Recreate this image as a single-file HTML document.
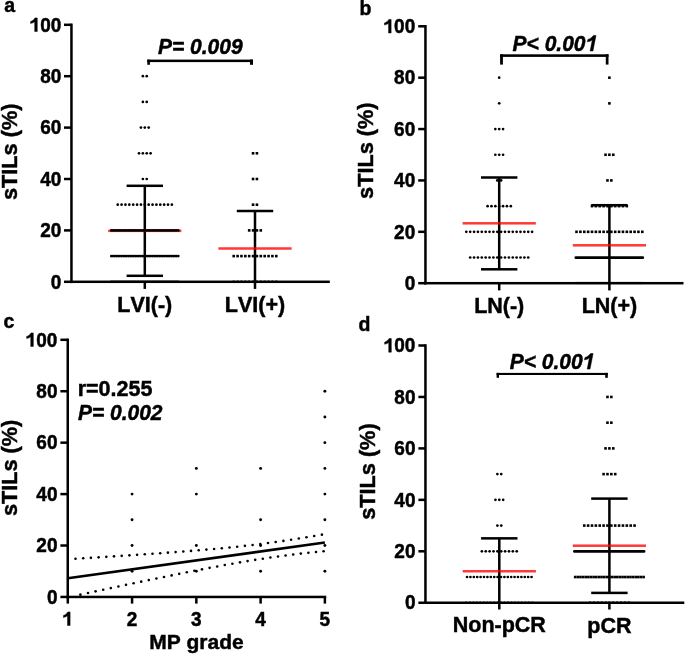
<!DOCTYPE html><html><head><meta charset="utf-8"><style>html,body{margin:0;padding:0;background:#fff;}svg{display:block;will-change:transform;} text{font-family:"Liberation Sans", sans-serif;font-weight:bold;fill:#000;stroke:#000;stroke-width:0.45px;font-kerning:none;} .g1{fill:#000;stroke:#000;stroke-width:0.45px;vector-effect:non-scaling-stroke;}</style></head><body>
<svg width="685" height="655" viewBox="0 0 685 655">
<rect width="685" height="655" fill="#fff"/>
<g transform="translate(4.30,12.40) scale(1,1.0)"><text x="0" y="0" font-size="19.5" font-style="normal" >a</text>
</g>
<rect x="143.55" y="185.80" width="2.50" height="90.00" fill="#000"/>
<rect x="126.60" y="184.55" width="36.40" height="2.50" fill="#000"/>
<rect x="126.60" y="274.55" width="36.40" height="2.50" fill="#000"/>
<rect x="253.75" y="211.00" width="2.50" height="70.80" fill="#000"/>
<rect x="236.80" y="209.75" width="36.40" height="2.50" fill="#000"/>
<rect x="108.20" y="229.60" width="73.20" height="2.50" fill="rgba(255,0,0,0.78)"/>
<rect x="218.40" y="247.25" width="73.20" height="2.50" fill="rgba(255,0,0,0.78)"/>
<circle cx="142.87" cy="76.20" r="1.35"/>
<circle cx="146.74" cy="76.20" r="1.35"/>
<circle cx="142.87" cy="101.90" r="1.35"/>
<circle cx="146.74" cy="101.90" r="1.35"/>
<circle cx="140.93" cy="127.60" r="1.35"/>
<circle cx="144.80" cy="127.60" r="1.35"/>
<circle cx="148.67" cy="127.60" r="1.35"/>
<circle cx="139.00" cy="153.30" r="1.35"/>
<circle cx="142.87" cy="153.30" r="1.35"/>
<circle cx="146.74" cy="153.30" r="1.35"/>
<circle cx="150.61" cy="153.30" r="1.35"/>
<circle cx="142.87" cy="179.00" r="1.35"/>
<circle cx="146.74" cy="179.00" r="1.35"/>
<circle cx="117.71" cy="204.70" r="1.35"/>
<circle cx="121.58" cy="204.70" r="1.35"/>
<circle cx="125.45" cy="204.70" r="1.35"/>
<circle cx="129.32" cy="204.70" r="1.35"/>
<circle cx="133.19" cy="204.70" r="1.35"/>
<circle cx="137.06" cy="204.70" r="1.35"/>
<circle cx="140.93" cy="204.70" r="1.35"/>
<circle cx="144.80" cy="204.70" r="1.35"/>
<circle cx="148.67" cy="204.70" r="1.35"/>
<circle cx="152.54" cy="204.70" r="1.35"/>
<circle cx="156.41" cy="204.70" r="1.35"/>
<circle cx="160.28" cy="204.70" r="1.35"/>
<circle cx="164.15" cy="204.70" r="1.35"/>
<circle cx="168.02" cy="204.70" r="1.35"/>
<circle cx="171.89" cy="204.70" r="1.35"/>
<circle cx="111.30" cy="230.40" r="1.35"/>
<circle cx="113.02" cy="230.40" r="1.35"/>
<circle cx="114.74" cy="230.40" r="1.35"/>
<circle cx="116.45" cy="230.40" r="1.35"/>
<circle cx="118.17" cy="230.40" r="1.35"/>
<circle cx="119.89" cy="230.40" r="1.35"/>
<circle cx="121.61" cy="230.40" r="1.35"/>
<circle cx="123.33" cy="230.40" r="1.35"/>
<circle cx="125.04" cy="230.40" r="1.35"/>
<circle cx="126.76" cy="230.40" r="1.35"/>
<circle cx="128.48" cy="230.40" r="1.35"/>
<circle cx="130.20" cy="230.40" r="1.35"/>
<circle cx="131.92" cy="230.40" r="1.35"/>
<circle cx="133.63" cy="230.40" r="1.35"/>
<circle cx="135.35" cy="230.40" r="1.35"/>
<circle cx="137.07" cy="230.40" r="1.35"/>
<circle cx="138.79" cy="230.40" r="1.35"/>
<circle cx="140.51" cy="230.40" r="1.35"/>
<circle cx="142.22" cy="230.40" r="1.35"/>
<circle cx="143.94" cy="230.40" r="1.35"/>
<circle cx="145.66" cy="230.40" r="1.35"/>
<circle cx="147.38" cy="230.40" r="1.35"/>
<circle cx="149.09" cy="230.40" r="1.35"/>
<circle cx="150.81" cy="230.40" r="1.35"/>
<circle cx="152.53" cy="230.40" r="1.35"/>
<circle cx="154.25" cy="230.40" r="1.35"/>
<circle cx="155.97" cy="230.40" r="1.35"/>
<circle cx="157.68" cy="230.40" r="1.35"/>
<circle cx="159.40" cy="230.40" r="1.35"/>
<circle cx="161.12" cy="230.40" r="1.35"/>
<circle cx="162.84" cy="230.40" r="1.35"/>
<circle cx="164.56" cy="230.40" r="1.35"/>
<circle cx="166.27" cy="230.40" r="1.35"/>
<circle cx="167.99" cy="230.40" r="1.35"/>
<circle cx="169.71" cy="230.40" r="1.35"/>
<circle cx="171.43" cy="230.40" r="1.35"/>
<circle cx="173.15" cy="230.40" r="1.35"/>
<circle cx="174.86" cy="230.40" r="1.35"/>
<circle cx="176.58" cy="230.40" r="1.35"/>
<circle cx="178.30" cy="230.40" r="1.35"/>
<circle cx="111.30" cy="256.10" r="1.35"/>
<circle cx="113.02" cy="256.10" r="1.35"/>
<circle cx="114.74" cy="256.10" r="1.35"/>
<circle cx="116.45" cy="256.10" r="1.35"/>
<circle cx="118.17" cy="256.10" r="1.35"/>
<circle cx="119.89" cy="256.10" r="1.35"/>
<circle cx="121.61" cy="256.10" r="1.35"/>
<circle cx="123.33" cy="256.10" r="1.35"/>
<circle cx="125.04" cy="256.10" r="1.35"/>
<circle cx="126.76" cy="256.10" r="1.35"/>
<circle cx="128.48" cy="256.10" r="1.35"/>
<circle cx="130.20" cy="256.10" r="1.35"/>
<circle cx="131.92" cy="256.10" r="1.35"/>
<circle cx="133.63" cy="256.10" r="1.35"/>
<circle cx="135.35" cy="256.10" r="1.35"/>
<circle cx="137.07" cy="256.10" r="1.35"/>
<circle cx="138.79" cy="256.10" r="1.35"/>
<circle cx="140.51" cy="256.10" r="1.35"/>
<circle cx="142.22" cy="256.10" r="1.35"/>
<circle cx="143.94" cy="256.10" r="1.35"/>
<circle cx="145.66" cy="256.10" r="1.35"/>
<circle cx="147.38" cy="256.10" r="1.35"/>
<circle cx="149.09" cy="256.10" r="1.35"/>
<circle cx="150.81" cy="256.10" r="1.35"/>
<circle cx="152.53" cy="256.10" r="1.35"/>
<circle cx="154.25" cy="256.10" r="1.35"/>
<circle cx="155.97" cy="256.10" r="1.35"/>
<circle cx="157.68" cy="256.10" r="1.35"/>
<circle cx="159.40" cy="256.10" r="1.35"/>
<circle cx="161.12" cy="256.10" r="1.35"/>
<circle cx="162.84" cy="256.10" r="1.35"/>
<circle cx="164.56" cy="256.10" r="1.35"/>
<circle cx="166.27" cy="256.10" r="1.35"/>
<circle cx="167.99" cy="256.10" r="1.35"/>
<circle cx="169.71" cy="256.10" r="1.35"/>
<circle cx="171.43" cy="256.10" r="1.35"/>
<circle cx="173.15" cy="256.10" r="1.35"/>
<circle cx="174.86" cy="256.10" r="1.35"/>
<circle cx="176.58" cy="256.10" r="1.35"/>
<circle cx="178.30" cy="256.10" r="1.35"/>
<circle cx="111.30" cy="281.60" r="1.1"/>
<circle cx="113.02" cy="281.60" r="1.1"/>
<circle cx="114.74" cy="281.60" r="1.1"/>
<circle cx="116.45" cy="281.60" r="1.1"/>
<circle cx="118.17" cy="281.60" r="1.1"/>
<circle cx="119.89" cy="281.60" r="1.1"/>
<circle cx="121.61" cy="281.60" r="1.1"/>
<circle cx="123.33" cy="281.60" r="1.1"/>
<circle cx="125.04" cy="281.60" r="1.1"/>
<circle cx="126.76" cy="281.60" r="1.1"/>
<circle cx="128.48" cy="281.60" r="1.1"/>
<circle cx="130.20" cy="281.60" r="1.1"/>
<circle cx="131.92" cy="281.60" r="1.1"/>
<circle cx="133.63" cy="281.60" r="1.1"/>
<circle cx="135.35" cy="281.60" r="1.1"/>
<circle cx="137.07" cy="281.60" r="1.1"/>
<circle cx="138.79" cy="281.60" r="1.1"/>
<circle cx="140.51" cy="281.60" r="1.1"/>
<circle cx="142.22" cy="281.60" r="1.1"/>
<circle cx="143.94" cy="281.60" r="1.1"/>
<circle cx="145.66" cy="281.60" r="1.1"/>
<circle cx="147.38" cy="281.60" r="1.1"/>
<circle cx="149.09" cy="281.60" r="1.1"/>
<circle cx="150.81" cy="281.60" r="1.1"/>
<circle cx="152.53" cy="281.60" r="1.1"/>
<circle cx="154.25" cy="281.60" r="1.1"/>
<circle cx="155.97" cy="281.60" r="1.1"/>
<circle cx="157.68" cy="281.60" r="1.1"/>
<circle cx="159.40" cy="281.60" r="1.1"/>
<circle cx="161.12" cy="281.60" r="1.1"/>
<circle cx="162.84" cy="281.60" r="1.1"/>
<circle cx="164.56" cy="281.60" r="1.1"/>
<circle cx="166.27" cy="281.60" r="1.1"/>
<circle cx="167.99" cy="281.60" r="1.1"/>
<circle cx="169.71" cy="281.60" r="1.1"/>
<circle cx="171.43" cy="281.60" r="1.1"/>
<circle cx="173.15" cy="281.60" r="1.1"/>
<circle cx="174.86" cy="281.60" r="1.1"/>
<circle cx="176.58" cy="281.60" r="1.1"/>
<circle cx="178.30" cy="281.60" r="1.1"/>
<rect x="251.76" y="152.00" width="2.60" height="2.60"/>
<rect x="255.63" y="152.00" width="2.60" height="2.60"/>
<rect x="251.76" y="177.70" width="2.60" height="2.60"/>
<rect x="255.63" y="177.70" width="2.60" height="2.60"/>
<rect x="251.76" y="203.40" width="2.60" height="2.60"/>
<rect x="255.63" y="203.40" width="2.60" height="2.60"/>
<rect x="247.89" y="229.10" width="2.60" height="2.60"/>
<rect x="251.76" y="229.10" width="2.60" height="2.60"/>
<rect x="255.63" y="229.10" width="2.60" height="2.60"/>
<rect x="259.50" y="229.10" width="2.60" height="2.60"/>
<rect x="232.41" y="254.80" width="2.60" height="2.60"/>
<rect x="236.28" y="254.80" width="2.60" height="2.60"/>
<rect x="240.16" y="254.80" width="2.60" height="2.60"/>
<rect x="244.02" y="254.80" width="2.60" height="2.60"/>
<rect x="247.89" y="254.80" width="2.60" height="2.60"/>
<rect x="251.76" y="254.80" width="2.60" height="2.60"/>
<rect x="255.63" y="254.80" width="2.60" height="2.60"/>
<rect x="259.50" y="254.80" width="2.60" height="2.60"/>
<rect x="263.38" y="254.80" width="2.60" height="2.60"/>
<rect x="267.25" y="254.80" width="2.60" height="2.60"/>
<rect x="271.12" y="254.80" width="2.60" height="2.60"/>
<rect x="274.99" y="254.80" width="2.60" height="2.60"/>
<rect x="232.66" y="280.55" width="2.10" height="2.10"/>
<rect x="236.53" y="280.55" width="2.10" height="2.10"/>
<rect x="240.41" y="280.55" width="2.10" height="2.10"/>
<rect x="244.27" y="280.55" width="2.10" height="2.10"/>
<rect x="248.14" y="280.55" width="2.10" height="2.10"/>
<rect x="252.01" y="280.55" width="2.10" height="2.10"/>
<rect x="255.88" y="280.55" width="2.10" height="2.10"/>
<rect x="259.75" y="280.55" width="2.10" height="2.10"/>
<rect x="263.62" y="280.55" width="2.10" height="2.10"/>
<rect x="267.50" y="280.55" width="2.10" height="2.10"/>
<rect x="271.37" y="280.55" width="2.10" height="2.10"/>
<rect x="275.24" y="280.55" width="2.10" height="2.10"/>
<rect x="70.20" y="23.55" width="2.50" height="259.50" fill="#000"/>
<rect x="70.20" y="280.55" width="259.60" height="2.50" fill="#000"/>
<rect x="64.00" y="280.55" width="7.45" height="2.50" fill="#000"/>
<g transform="translate(50.83,288.50) scale(1,1.04)"><text x="0" y="0" font-size="19" font-style="normal" >0</text>
</g>
<rect x="64.00" y="229.15" width="7.45" height="2.50" fill="#000"/>
<g transform="translate(40.27,237.10) scale(1,1.04)"><text x="0" y="0" font-size="19" font-style="normal" >20</text>
</g>
<rect x="64.00" y="177.75" width="7.45" height="2.50" fill="#000"/>
<g transform="translate(40.27,185.70) scale(1,1.04)"><text x="0" y="0" font-size="19" font-style="normal" >40</text>
</g>
<rect x="64.00" y="126.35" width="7.45" height="2.50" fill="#000"/>
<g transform="translate(40.27,134.30) scale(1,1.04)"><text x="0" y="0" font-size="19" font-style="normal" >60</text>
</g>
<rect x="64.00" y="74.95" width="7.45" height="2.50" fill="#000"/>
<g transform="translate(40.27,82.90) scale(1,1.04)"><text x="0" y="0" font-size="19" font-style="normal" >80</text>
</g>
<rect x="64.00" y="23.55" width="7.45" height="2.50" fill="#000"/>
<g transform="translate(29.70,31.50) scale(1,1.04)"><text x="0" y="0" font-size="19" font-style="normal" > 00</text>
<path class="g1" d="M 537.0 0.0 L 537.0 999.4 C 440.0 917.8 300.0 864.9 95.0 826.5 L 95.0 1042.7 C 300.0 1105.1 470.0 1239.7 562.0 1408.8 L 818.0 1408.8 L 818.0 0.0 Z" transform="translate(0.00,0) scale(0.00928,-0.00928)"/>
</g>
<text x="0" y="0" font-size="21.7" text-anchor="middle" transform="translate(16.80,151.80) rotate(-90) scale(1,1.03)">sTILs (%)</text>
<rect x="143.55" y="281.80" width="2.50" height="7.10" fill="#000"/>
<g transform="translate(117.34,311.70) scale(1,1.0)"><text x="0" y="0" font-size="21.5" font-style="normal" >LVI(-)</text>
</g>
<rect x="253.75" y="281.80" width="2.50" height="7.10" fill="#000"/>
<g transform="translate(224.84,311.70) scale(1,1.0)"><text x="0" y="0" font-size="21.5" font-style="normal" >LVI(+)</text>
</g>
<rect x="147.30" y="59.60" width="105.70" height="2.50" fill="#000"/>
<rect x="147.30" y="59.60" width="2.60" height="5.20" fill="#000"/>
<rect x="250.00" y="59.60" width="3.00" height="5.20" fill="#000"/>
<g transform="translate(157.97,53.60) scale(1,1.08)"><text x="0" y="0" font-size="21" font-style="italic" >P= 0.009</text>
</g>
<g transform="translate(359.40,15.20) scale(1,1.0)"><text x="0" y="0" font-size="19.5" font-style="normal" >b</text>
</g>
<rect x="497.95" y="177.50" width="2.50" height="91.80" fill="#000"/>
<rect x="481.00" y="176.25" width="36.40" height="2.50" fill="#000"/>
<rect x="481.00" y="268.05" width="36.40" height="2.50" fill="#000"/>
<rect x="608.15" y="205.20" width="2.50" height="78.00" fill="#000"/>
<rect x="591.20" y="203.95" width="36.40" height="2.50" fill="#000"/>
<rect x="462.60" y="222.05" width="73.20" height="2.50" fill="rgba(255,0,0,0.78)"/>
<rect x="572.80" y="244.05" width="73.20" height="2.50" fill="rgba(255,0,0,0.78)"/>
<circle cx="499.20" cy="77.68" r="1.35"/>
<circle cx="499.20" cy="103.37" r="1.35"/>
<circle cx="495.33" cy="129.06" r="1.35"/>
<circle cx="499.20" cy="129.06" r="1.35"/>
<circle cx="503.07" cy="129.06" r="1.35"/>
<circle cx="495.33" cy="154.75" r="1.35"/>
<circle cx="499.20" cy="154.75" r="1.35"/>
<circle cx="503.07" cy="154.75" r="1.35"/>
<circle cx="497.26" cy="180.44" r="1.35"/>
<circle cx="501.13" cy="180.44" r="1.35"/>
<circle cx="487.59" cy="206.13" r="1.35"/>
<circle cx="491.46" cy="206.13" r="1.35"/>
<circle cx="495.33" cy="206.13" r="1.35"/>
<circle cx="499.20" cy="206.13" r="1.35"/>
<circle cx="503.07" cy="206.13" r="1.35"/>
<circle cx="506.94" cy="206.13" r="1.35"/>
<circle cx="510.81" cy="206.13" r="1.35"/>
<circle cx="466.31" cy="231.82" r="1.35"/>
<circle cx="470.18" cy="231.82" r="1.35"/>
<circle cx="474.05" cy="231.82" r="1.35"/>
<circle cx="477.92" cy="231.82" r="1.35"/>
<circle cx="481.79" cy="231.82" r="1.35"/>
<circle cx="485.66" cy="231.82" r="1.35"/>
<circle cx="489.52" cy="231.82" r="1.35"/>
<circle cx="493.39" cy="231.82" r="1.35"/>
<circle cx="497.26" cy="231.82" r="1.35"/>
<circle cx="501.13" cy="231.82" r="1.35"/>
<circle cx="505.00" cy="231.82" r="1.35"/>
<circle cx="508.88" cy="231.82" r="1.35"/>
<circle cx="512.75" cy="231.82" r="1.35"/>
<circle cx="516.62" cy="231.82" r="1.35"/>
<circle cx="520.49" cy="231.82" r="1.35"/>
<circle cx="524.36" cy="231.82" r="1.35"/>
<circle cx="528.23" cy="231.82" r="1.35"/>
<circle cx="532.10" cy="231.82" r="1.35"/>
<circle cx="470.18" cy="257.51" r="1.35"/>
<circle cx="474.05" cy="257.51" r="1.35"/>
<circle cx="477.92" cy="257.51" r="1.35"/>
<circle cx="481.79" cy="257.51" r="1.35"/>
<circle cx="485.66" cy="257.51" r="1.35"/>
<circle cx="489.53" cy="257.51" r="1.35"/>
<circle cx="493.39" cy="257.51" r="1.35"/>
<circle cx="497.26" cy="257.51" r="1.35"/>
<circle cx="501.13" cy="257.51" r="1.35"/>
<circle cx="505.00" cy="257.51" r="1.35"/>
<circle cx="508.88" cy="257.51" r="1.35"/>
<circle cx="512.75" cy="257.51" r="1.35"/>
<circle cx="516.62" cy="257.51" r="1.35"/>
<circle cx="520.49" cy="257.51" r="1.35"/>
<circle cx="524.36" cy="257.51" r="1.35"/>
<circle cx="528.23" cy="257.51" r="1.35"/>
<circle cx="493.39" cy="283.00" r="1.1"/>
<circle cx="497.26" cy="283.00" r="1.1"/>
<circle cx="501.13" cy="283.00" r="1.1"/>
<circle cx="505.00" cy="283.00" r="1.1"/>
<rect x="608.10" y="76.38" width="2.60" height="2.60"/>
<rect x="608.10" y="102.07" width="2.60" height="2.60"/>
<rect x="604.23" y="153.45" width="2.60" height="2.60"/>
<rect x="608.10" y="153.45" width="2.60" height="2.60"/>
<rect x="611.97" y="153.45" width="2.60" height="2.60"/>
<rect x="606.17" y="179.14" width="2.60" height="2.60"/>
<rect x="610.04" y="179.14" width="2.60" height="2.60"/>
<rect x="590.69" y="204.83" width="2.60" height="2.60"/>
<rect x="594.56" y="204.83" width="2.60" height="2.60"/>
<rect x="598.43" y="204.83" width="2.60" height="2.60"/>
<rect x="602.30" y="204.83" width="2.60" height="2.60"/>
<rect x="606.17" y="204.83" width="2.60" height="2.60"/>
<rect x="610.04" y="204.83" width="2.60" height="2.60"/>
<rect x="613.91" y="204.83" width="2.60" height="2.60"/>
<rect x="617.78" y="204.83" width="2.60" height="2.60"/>
<rect x="621.65" y="204.83" width="2.60" height="2.60"/>
<rect x="625.52" y="204.83" width="2.60" height="2.60"/>
<rect x="575.21" y="230.52" width="2.60" height="2.60"/>
<rect x="579.08" y="230.52" width="2.60" height="2.60"/>
<rect x="582.95" y="230.52" width="2.60" height="2.60"/>
<rect x="586.82" y="230.52" width="2.60" height="2.60"/>
<rect x="590.69" y="230.52" width="2.60" height="2.60"/>
<rect x="594.56" y="230.52" width="2.60" height="2.60"/>
<rect x="598.43" y="230.52" width="2.60" height="2.60"/>
<rect x="602.30" y="230.52" width="2.60" height="2.60"/>
<rect x="606.17" y="230.52" width="2.60" height="2.60"/>
<rect x="610.04" y="230.52" width="2.60" height="2.60"/>
<rect x="613.91" y="230.52" width="2.60" height="2.60"/>
<rect x="617.78" y="230.52" width="2.60" height="2.60"/>
<rect x="621.64" y="230.52" width="2.60" height="2.60"/>
<rect x="625.52" y="230.52" width="2.60" height="2.60"/>
<rect x="629.38" y="230.52" width="2.60" height="2.60"/>
<rect x="633.25" y="230.52" width="2.60" height="2.60"/>
<rect x="637.12" y="230.52" width="2.60" height="2.60"/>
<rect x="641.00" y="230.52" width="2.60" height="2.60"/>
<rect x="575.35" y="281.95" width="2.10" height="2.10"/>
<rect x="577.04" y="281.95" width="2.10" height="2.10"/>
<rect x="578.73" y="281.95" width="2.10" height="2.10"/>
<rect x="580.43" y="281.95" width="2.10" height="2.10"/>
<rect x="582.12" y="281.95" width="2.10" height="2.10"/>
<rect x="583.81" y="281.95" width="2.10" height="2.10"/>
<rect x="585.50" y="281.95" width="2.10" height="2.10"/>
<rect x="587.20" y="281.95" width="2.10" height="2.10"/>
<rect x="588.89" y="281.95" width="2.10" height="2.10"/>
<rect x="590.58" y="281.95" width="2.10" height="2.10"/>
<rect x="592.27" y="281.95" width="2.10" height="2.10"/>
<rect x="593.97" y="281.95" width="2.10" height="2.10"/>
<rect x="595.66" y="281.95" width="2.10" height="2.10"/>
<rect x="597.35" y="281.95" width="2.10" height="2.10"/>
<rect x="599.04" y="281.95" width="2.10" height="2.10"/>
<rect x="600.73" y="281.95" width="2.10" height="2.10"/>
<rect x="602.43" y="281.95" width="2.10" height="2.10"/>
<rect x="604.12" y="281.95" width="2.10" height="2.10"/>
<rect x="605.81" y="281.95" width="2.10" height="2.10"/>
<rect x="607.50" y="281.95" width="2.10" height="2.10"/>
<rect x="609.20" y="281.95" width="2.10" height="2.10"/>
<rect x="610.89" y="281.95" width="2.10" height="2.10"/>
<rect x="612.58" y="281.95" width="2.10" height="2.10"/>
<rect x="614.27" y="281.95" width="2.10" height="2.10"/>
<rect x="615.97" y="281.95" width="2.10" height="2.10"/>
<rect x="617.66" y="281.95" width="2.10" height="2.10"/>
<rect x="619.35" y="281.95" width="2.10" height="2.10"/>
<rect x="621.04" y="281.95" width="2.10" height="2.10"/>
<rect x="622.73" y="281.95" width="2.10" height="2.10"/>
<rect x="624.43" y="281.95" width="2.10" height="2.10"/>
<rect x="626.12" y="281.95" width="2.10" height="2.10"/>
<rect x="627.81" y="281.95" width="2.10" height="2.10"/>
<rect x="629.50" y="281.95" width="2.10" height="2.10"/>
<rect x="631.20" y="281.95" width="2.10" height="2.10"/>
<rect x="632.89" y="281.95" width="2.10" height="2.10"/>
<rect x="634.58" y="281.95" width="2.10" height="2.10"/>
<rect x="636.27" y="281.95" width="2.10" height="2.10"/>
<rect x="637.97" y="281.95" width="2.10" height="2.10"/>
<rect x="639.66" y="281.95" width="2.10" height="2.10"/>
<rect x="641.35" y="281.95" width="2.10" height="2.10"/>
<rect x="574.50" y="256.20" width="69.60" height="2.80" rx="1.2"/>
<rect x="424.20" y="25.05" width="2.50" height="259.40" fill="#000"/>
<rect x="424.20" y="281.95" width="259.30" height="2.50" fill="#000"/>
<rect x="418.20" y="281.95" width="7.25" height="2.50" fill="#000"/>
<g transform="translate(404.68,289.90) scale(1,1.04)"><text x="0" y="0" font-size="19" font-style="normal" >0</text>
</g>
<rect x="418.20" y="230.57" width="7.25" height="2.50" fill="#000"/>
<g transform="translate(394.12,238.52) scale(1,1.04)"><text x="0" y="0" font-size="19" font-style="normal" >20</text>
</g>
<rect x="418.20" y="179.19" width="7.25" height="2.50" fill="#000"/>
<g transform="translate(394.12,187.14) scale(1,1.04)"><text x="0" y="0" font-size="19" font-style="normal" >40</text>
</g>
<rect x="418.20" y="127.81" width="7.25" height="2.50" fill="#000"/>
<g transform="translate(394.12,135.76) scale(1,1.04)"><text x="0" y="0" font-size="19" font-style="normal" >60</text>
</g>
<rect x="418.20" y="76.43" width="7.25" height="2.50" fill="#000"/>
<g transform="translate(394.12,84.38) scale(1,1.04)"><text x="0" y="0" font-size="19" font-style="normal" >80</text>
</g>
<rect x="418.20" y="25.05" width="7.25" height="2.50" fill="#000"/>
<g transform="translate(383.55,33.00) scale(1,1.04)"><text x="0" y="0" font-size="19" font-style="normal" > 00</text>
<path class="g1" d="M 537.0 0.0 L 537.0 999.4 C 440.0 917.8 300.0 864.9 95.0 826.5 L 95.0 1042.7 C 300.0 1105.1 470.0 1239.7 562.0 1408.8 L 818.0 1408.8 L 818.0 0.0 Z" transform="translate(0.00,0) scale(0.00928,-0.00928)"/>
</g>
<text x="0" y="0" font-size="21.7" text-anchor="middle" transform="translate(372.70,150.70) rotate(-90) scale(1,1.03)">sTILs (%)</text>
<rect x="497.95" y="283.20" width="2.50" height="7.20" fill="#000"/>
<g transform="translate(474.13,312.90) scale(1,1.0)"><text x="0" y="0" font-size="21.5" font-style="normal" >LN(-)</text>
</g>
<rect x="608.15" y="283.20" width="2.50" height="7.20" fill="#000"/>
<g transform="translate(581.63,312.90) scale(1,1.0)"><text x="0" y="0" font-size="21.5" font-style="normal" >LN(+)</text>
</g>
<rect x="500.10" y="54.30" width="108.40" height="2.60" fill="#000"/>
<rect x="500.10" y="54.30" width="2.80" height="10.30" fill="#000"/>
<rect x="605.80" y="54.30" width="2.70" height="10.30" fill="#000"/>
<g transform="translate(512.57,51.00) scale(1,1.08)"><text x="0" y="0" font-size="21" font-style="italic" >P&lt; 0.00 </text>
<path class="g1" d="M 442.0 0.0 L 654.5 999.4 C 540.1 917.8 388.9 864.9 175.7 826.5 L 221.7 1042.7 C 440.0 1105.1 638.6 1239.7 766.5 1408.8 L 1022.5 1408.8 L 723.0 0.0 Z" transform="translate(72.98,0) scale(0.01025,-0.01025)"/>
</g>
<g transform="translate(3.50,327.60) scale(1,1.0)"><text x="0" y="0" font-size="19.5" font-style="normal" >c</text>
</g>
<rect x="66.50" y="338.55" width="2.50" height="259.65" fill="#000"/>
<rect x="66.50" y="595.70" width="259.70" height="2.50" fill="#000"/>
<rect x="60.40" y="595.70" width="7.35" height="2.50" fill="#000"/>
<g transform="translate(46.88,603.65) scale(1,1.04)"><text x="0" y="0" font-size="19" font-style="normal" >0</text>
</g>
<rect x="60.40" y="544.27" width="7.35" height="2.50" fill="#000"/>
<g transform="translate(36.32,552.22) scale(1,1.04)"><text x="0" y="0" font-size="19" font-style="normal" >20</text>
</g>
<rect x="60.40" y="492.84" width="7.35" height="2.50" fill="#000"/>
<g transform="translate(36.32,500.79) scale(1,1.04)"><text x="0" y="0" font-size="19" font-style="normal" >40</text>
</g>
<rect x="60.40" y="441.41" width="7.35" height="2.50" fill="#000"/>
<g transform="translate(36.32,449.36) scale(1,1.04)"><text x="0" y="0" font-size="19" font-style="normal" >60</text>
</g>
<rect x="60.40" y="389.98" width="7.35" height="2.50" fill="#000"/>
<g transform="translate(36.32,397.93) scale(1,1.04)"><text x="0" y="0" font-size="19" font-style="normal" >80</text>
</g>
<rect x="60.40" y="338.55" width="7.35" height="2.50" fill="#000"/>
<g transform="translate(25.75,346.50) scale(1,1.04)"><text x="0" y="0" font-size="19" font-style="normal" > 00</text>
<path class="g1" d="M 537.0 0.0 L 537.0 999.4 C 440.0 917.8 300.0 864.9 95.0 826.5 L 95.0 1042.7 C 300.0 1105.1 470.0 1239.7 562.0 1408.8 L 818.0 1408.8 L 818.0 0.0 Z" transform="translate(0.00,0) scale(0.00928,-0.00928)"/>
</g>
<text x="0" y="0" font-size="21.7" text-anchor="middle" transform="translate(17.10,467.90) rotate(-90) scale(1,1.03)">sTILs (%)</text>
<rect x="66.55" y="596.95" width="2.50" height="6.65" fill="#000"/>
<g transform="translate(62.52,625.50) scale(1,1.04)"><text x="0" y="0" font-size="19" font-style="normal" > </text>
<path class="g1" d="M 537.0 0.0 L 537.0 999.4 C 440.0 917.8 300.0 864.9 95.0 826.5 L 95.0 1042.7 C 300.0 1105.1 470.0 1239.7 562.0 1408.8 L 818.0 1408.8 L 818.0 0.0 Z" transform="translate(0.00,0) scale(0.00928,-0.00928)"/>
</g>
<rect x="130.82" y="596.95" width="2.50" height="6.65" fill="#000"/>
<g transform="translate(126.79,625.50) scale(1,1.04)"><text x="0" y="0" font-size="19" font-style="normal" >2</text>
</g>
<rect x="195.09" y="596.95" width="2.50" height="6.65" fill="#000"/>
<g transform="translate(191.06,625.50) scale(1,1.04)"><text x="0" y="0" font-size="19" font-style="normal" >3</text>
</g>
<rect x="259.36" y="596.95" width="2.50" height="6.65" fill="#000"/>
<g transform="translate(255.33,625.50) scale(1,1.04)"><text x="0" y="0" font-size="19" font-style="normal" >4</text>
</g>
<rect x="323.63" y="596.95" width="2.50" height="6.65" fill="#000"/>
<g transform="translate(319.60,625.50) scale(1,1.04)"><text x="0" y="0" font-size="19" font-style="normal" >5</text>
</g>
<g transform="translate(149.14,649.40) scale(1,1.0)"><text x="0" y="0" font-size="21.0" font-style="normal" >MP grade</text>
</g>
<g transform="translate(77.70,396.20) scale(1,1.0)"><text x="0" y="0" font-size="21.5" font-style="normal" >r=0.255</text>
</g>
<g transform="translate(77.90,419.90) scale(1,1.08)"><text x="0" y="0" font-size="21" font-style="italic" >P= 0.002</text>
</g>
<circle cx="132.07" cy="494.09" r="1.45"/>
<circle cx="132.07" cy="519.81" r="1.45"/>
<circle cx="132.07" cy="545.52" r="1.45"/>
<circle cx="132.07" cy="571.24" r="1.45"/>
<circle cx="196.34" cy="468.38" r="1.45"/>
<circle cx="196.34" cy="494.09" r="1.45"/>
<circle cx="196.34" cy="545.52" r="1.45"/>
<circle cx="196.34" cy="571.24" r="1.45"/>
<circle cx="260.61" cy="468.38" r="1.45"/>
<circle cx="260.61" cy="519.81" r="1.45"/>
<circle cx="260.61" cy="545.52" r="1.45"/>
<circle cx="260.61" cy="571.24" r="1.45"/>
<circle cx="324.88" cy="391.23" r="1.45"/>
<circle cx="324.88" cy="416.95" r="1.45"/>
<circle cx="324.88" cy="442.66" r="1.45"/>
<circle cx="324.88" cy="468.38" r="1.45"/>
<circle cx="324.88" cy="494.09" r="1.45"/>
<circle cx="324.88" cy="519.81" r="1.45"/>
<circle cx="324.88" cy="545.52" r="1.45"/>
<circle cx="324.88" cy="571.24" r="1.45"/>
<line x1="67.80" y1="578.31" x2="324.88" y2="542.58" stroke="#000" stroke-width="2.6"/>
<circle cx="75.50" cy="558.79" r="1.3"/>
<circle cx="83.20" cy="558.31" r="1.3"/>
<circle cx="90.90" cy="557.83" r="1.3"/>
<circle cx="98.60" cy="557.35" r="1.3"/>
<circle cx="106.30" cy="556.86" r="1.3"/>
<circle cx="114.00" cy="556.36" r="1.3"/>
<circle cx="121.70" cy="555.86" r="1.3"/>
<circle cx="129.40" cy="555.35" r="1.3"/>
<circle cx="137.10" cy="554.83" r="1.3"/>
<circle cx="144.80" cy="554.31" r="1.3"/>
<circle cx="152.50" cy="553.77" r="1.3"/>
<circle cx="160.20" cy="553.23" r="1.3"/>
<circle cx="167.90" cy="552.67" r="1.3"/>
<circle cx="175.60" cy="552.10" r="1.3"/>
<circle cx="183.30" cy="551.51" r="1.3"/>
<circle cx="191.00" cy="550.90" r="1.3"/>
<circle cx="198.70" cy="550.27" r="1.3"/>
<circle cx="206.40" cy="549.61" r="1.3"/>
<circle cx="214.10" cy="548.93" r="1.3"/>
<circle cx="221.80" cy="548.22" r="1.3"/>
<circle cx="229.50" cy="547.47" r="1.3"/>
<circle cx="237.20" cy="546.69" r="1.3"/>
<circle cx="244.90" cy="545.85" r="1.3"/>
<circle cx="252.60" cy="544.98" r="1.3"/>
<circle cx="260.30" cy="544.05" r="1.3"/>
<circle cx="268.00" cy="543.06" r="1.3"/>
<circle cx="275.70" cy="542.02" r="1.3"/>
<circle cx="283.40" cy="540.92" r="1.3"/>
<circle cx="291.10" cy="539.77" r="1.3"/>
<circle cx="298.80" cy="538.56" r="1.3"/>
<circle cx="306.50" cy="537.30" r="1.3"/>
<circle cx="314.20" cy="535.99" r="1.3"/>
<circle cx="321.90" cy="534.64" r="1.3"/>
<circle cx="80.40" cy="594.64" r="1.3"/>
<circle cx="88.00" cy="593.00" r="1.3"/>
<circle cx="95.60" cy="591.36" r="1.3"/>
<circle cx="103.20" cy="589.73" r="1.3"/>
<circle cx="110.80" cy="588.10" r="1.3"/>
<circle cx="118.40" cy="586.48" r="1.3"/>
<circle cx="126.00" cy="584.87" r="1.3"/>
<circle cx="133.60" cy="583.26" r="1.3"/>
<circle cx="141.20" cy="581.67" r="1.3"/>
<circle cx="148.80" cy="580.08" r="1.3"/>
<circle cx="156.40" cy="578.50" r="1.3"/>
<circle cx="164.00" cy="576.93" r="1.3"/>
<circle cx="171.60" cy="575.38" r="1.3"/>
<circle cx="179.20" cy="573.84" r="1.3"/>
<circle cx="186.80" cy="572.31" r="1.3"/>
<circle cx="194.40" cy="570.81" r="1.3"/>
<circle cx="202.00" cy="569.33" r="1.3"/>
<circle cx="209.60" cy="567.87" r="1.3"/>
<circle cx="217.20" cy="566.44" r="1.3"/>
<circle cx="224.80" cy="565.05" r="1.3"/>
<circle cx="232.40" cy="563.69" r="1.3"/>
<circle cx="240.00" cy="562.37" r="1.3"/>
<circle cx="247.60" cy="561.09" r="1.3"/>
<circle cx="255.20" cy="559.86" r="1.3"/>
<circle cx="262.80" cy="558.69" r="1.3"/>
<circle cx="270.40" cy="557.56" r="1.3"/>
<circle cx="278.00" cy="556.49" r="1.3"/>
<circle cx="285.60" cy="555.48" r="1.3"/>
<circle cx="293.20" cy="554.52" r="1.3"/>
<circle cx="300.80" cy="553.62" r="1.3"/>
<circle cx="308.40" cy="552.76" r="1.3"/>
<circle cx="316.00" cy="551.95" r="1.3"/>
<circle cx="323.60" cy="551.18" r="1.3"/>
<g transform="translate(358.60,330.60) scale(1,1.0)"><text x="0" y="0" font-size="19.5" font-style="normal" >d</text>
</g>
<rect x="498.05" y="538.35" width="2.50" height="64.40" fill="#000"/>
<rect x="481.10" y="537.10" width="36.40" height="2.50" fill="#000"/>
<rect x="608.15" y="498.60" width="2.50" height="94.30" fill="#000"/>
<rect x="591.20" y="497.35" width="36.40" height="2.50" fill="#000"/>
<rect x="591.20" y="591.65" width="36.40" height="2.50" fill="#000"/>
<rect x="462.70" y="570.00" width="73.20" height="2.50" fill="rgba(255,0,0,0.78)"/>
<rect x="572.80" y="544.45" width="73.20" height="2.50" fill="rgba(255,0,0,0.78)"/>
<circle cx="497.37" cy="474.12" r="1.35"/>
<circle cx="501.24" cy="474.12" r="1.35"/>
<circle cx="495.43" cy="499.85" r="1.35"/>
<circle cx="499.30" cy="499.85" r="1.35"/>
<circle cx="503.17" cy="499.85" r="1.35"/>
<circle cx="497.37" cy="525.58" r="1.35"/>
<circle cx="501.24" cy="525.58" r="1.35"/>
<circle cx="481.88" cy="551.30" r="1.35"/>
<circle cx="485.75" cy="551.30" r="1.35"/>
<circle cx="489.62" cy="551.30" r="1.35"/>
<circle cx="493.50" cy="551.30" r="1.35"/>
<circle cx="497.37" cy="551.30" r="1.35"/>
<circle cx="501.24" cy="551.30" r="1.35"/>
<circle cx="505.11" cy="551.30" r="1.35"/>
<circle cx="508.97" cy="551.30" r="1.35"/>
<circle cx="512.85" cy="551.30" r="1.35"/>
<circle cx="516.72" cy="551.30" r="1.35"/>
<circle cx="467.05" cy="577.02" r="1.35"/>
<circle cx="470.44" cy="577.02" r="1.35"/>
<circle cx="473.84" cy="577.02" r="1.35"/>
<circle cx="477.23" cy="577.02" r="1.35"/>
<circle cx="480.63" cy="577.02" r="1.35"/>
<circle cx="484.02" cy="577.02" r="1.35"/>
<circle cx="487.42" cy="577.02" r="1.35"/>
<circle cx="490.81" cy="577.02" r="1.35"/>
<circle cx="494.21" cy="577.02" r="1.35"/>
<circle cx="497.60" cy="577.02" r="1.35"/>
<circle cx="501.00" cy="577.02" r="1.35"/>
<circle cx="504.39" cy="577.02" r="1.35"/>
<circle cx="507.79" cy="577.02" r="1.35"/>
<circle cx="511.18" cy="577.02" r="1.35"/>
<circle cx="514.58" cy="577.02" r="1.35"/>
<circle cx="517.97" cy="577.02" r="1.35"/>
<circle cx="521.37" cy="577.02" r="1.35"/>
<circle cx="524.76" cy="577.02" r="1.35"/>
<circle cx="528.16" cy="577.02" r="1.35"/>
<circle cx="531.55" cy="577.02" r="1.35"/>
<circle cx="466.30" cy="602.55" r="1.1"/>
<circle cx="469.77" cy="602.55" r="1.1"/>
<circle cx="473.25" cy="602.55" r="1.1"/>
<circle cx="476.72" cy="602.55" r="1.1"/>
<circle cx="480.19" cy="602.55" r="1.1"/>
<circle cx="483.67" cy="602.55" r="1.1"/>
<circle cx="487.14" cy="602.55" r="1.1"/>
<circle cx="490.62" cy="602.55" r="1.1"/>
<circle cx="494.09" cy="602.55" r="1.1"/>
<circle cx="497.56" cy="602.55" r="1.1"/>
<circle cx="501.04" cy="602.55" r="1.1"/>
<circle cx="504.51" cy="602.55" r="1.1"/>
<circle cx="507.98" cy="602.55" r="1.1"/>
<circle cx="511.46" cy="602.55" r="1.1"/>
<circle cx="514.93" cy="602.55" r="1.1"/>
<circle cx="518.41" cy="602.55" r="1.1"/>
<circle cx="521.88" cy="602.55" r="1.1"/>
<circle cx="525.35" cy="602.55" r="1.1"/>
<circle cx="528.83" cy="602.55" r="1.1"/>
<circle cx="532.30" cy="602.55" r="1.1"/>
<rect x="606.17" y="395.65" width="2.60" height="2.60"/>
<rect x="610.04" y="395.65" width="2.60" height="2.60"/>
<rect x="606.17" y="421.38" width="2.60" height="2.60"/>
<rect x="610.04" y="421.38" width="2.60" height="2.60"/>
<rect x="604.23" y="447.10" width="2.60" height="2.60"/>
<rect x="608.10" y="447.10" width="2.60" height="2.60"/>
<rect x="611.97" y="447.10" width="2.60" height="2.60"/>
<rect x="602.30" y="472.82" width="2.60" height="2.60"/>
<rect x="606.17" y="472.82" width="2.60" height="2.60"/>
<rect x="610.04" y="472.82" width="2.60" height="2.60"/>
<rect x="613.91" y="472.82" width="2.60" height="2.60"/>
<rect x="582.95" y="524.28" width="2.60" height="2.60"/>
<rect x="586.82" y="524.28" width="2.60" height="2.60"/>
<rect x="590.69" y="524.28" width="2.60" height="2.60"/>
<rect x="594.56" y="524.28" width="2.60" height="2.60"/>
<rect x="598.43" y="524.28" width="2.60" height="2.60"/>
<rect x="602.30" y="524.28" width="2.60" height="2.60"/>
<rect x="606.17" y="524.28" width="2.60" height="2.60"/>
<rect x="610.04" y="524.28" width="2.60" height="2.60"/>
<rect x="613.91" y="524.28" width="2.60" height="2.60"/>
<rect x="617.78" y="524.28" width="2.60" height="2.60"/>
<rect x="621.65" y="524.28" width="2.60" height="2.60"/>
<rect x="625.52" y="524.28" width="2.60" height="2.60"/>
<rect x="629.38" y="524.28" width="2.60" height="2.60"/>
<rect x="633.26" y="524.28" width="2.60" height="2.60"/>
<rect x="573.90" y="575.73" width="2.60" height="2.60"/>
<rect x="576.53" y="575.73" width="2.60" height="2.60"/>
<rect x="579.16" y="575.73" width="2.60" height="2.60"/>
<rect x="581.79" y="575.73" width="2.60" height="2.60"/>
<rect x="584.42" y="575.73" width="2.60" height="2.60"/>
<rect x="587.05" y="575.73" width="2.60" height="2.60"/>
<rect x="589.68" y="575.73" width="2.60" height="2.60"/>
<rect x="592.32" y="575.73" width="2.60" height="2.60"/>
<rect x="594.95" y="575.73" width="2.60" height="2.60"/>
<rect x="597.58" y="575.73" width="2.60" height="2.60"/>
<rect x="600.21" y="575.73" width="2.60" height="2.60"/>
<rect x="602.84" y="575.73" width="2.60" height="2.60"/>
<rect x="605.47" y="575.73" width="2.60" height="2.60"/>
<rect x="608.10" y="575.73" width="2.60" height="2.60"/>
<rect x="610.73" y="575.73" width="2.60" height="2.60"/>
<rect x="613.36" y="575.73" width="2.60" height="2.60"/>
<rect x="615.99" y="575.73" width="2.60" height="2.60"/>
<rect x="618.62" y="575.73" width="2.60" height="2.60"/>
<rect x="621.25" y="575.73" width="2.60" height="2.60"/>
<rect x="623.88" y="575.73" width="2.60" height="2.60"/>
<rect x="626.52" y="575.73" width="2.60" height="2.60"/>
<rect x="629.15" y="575.73" width="2.60" height="2.60"/>
<rect x="631.78" y="575.73" width="2.60" height="2.60"/>
<rect x="634.41" y="575.73" width="2.60" height="2.60"/>
<rect x="637.04" y="575.73" width="2.60" height="2.60"/>
<rect x="639.67" y="575.73" width="2.60" height="2.60"/>
<rect x="642.30" y="575.73" width="2.60" height="2.60"/>
<rect x="589.00" y="601.50" width="2.10" height="2.10"/>
<rect x="592.87" y="601.50" width="2.10" height="2.10"/>
<rect x="596.74" y="601.50" width="2.10" height="2.10"/>
<rect x="600.61" y="601.50" width="2.10" height="2.10"/>
<rect x="604.48" y="601.50" width="2.10" height="2.10"/>
<rect x="608.35" y="601.50" width="2.10" height="2.10"/>
<rect x="612.22" y="601.50" width="2.10" height="2.10"/>
<rect x="616.09" y="601.50" width="2.10" height="2.10"/>
<rect x="619.96" y="601.50" width="2.10" height="2.10"/>
<rect x="623.83" y="601.50" width="2.10" height="2.10"/>
<rect x="627.70" y="601.50" width="2.10" height="2.10"/>
<rect x="573.10" y="549.90" width="72.30" height="2.80" rx="1.2"/>
<rect x="424.20" y="344.25" width="2.50" height="259.75" fill="#000"/>
<rect x="424.20" y="601.50" width="260.10" height="2.50" fill="#000"/>
<rect x="418.40" y="601.50" width="7.05" height="2.50" fill="#000"/>
<g transform="translate(404.88,609.45) scale(1,1.04)"><text x="0" y="0" font-size="19" font-style="normal" >0</text>
</g>
<rect x="418.40" y="550.05" width="7.05" height="2.50" fill="#000"/>
<g transform="translate(394.32,558.00) scale(1,1.04)"><text x="0" y="0" font-size="19" font-style="normal" >20</text>
</g>
<rect x="418.40" y="498.60" width="7.05" height="2.50" fill="#000"/>
<g transform="translate(394.32,506.55) scale(1,1.04)"><text x="0" y="0" font-size="19" font-style="normal" >40</text>
</g>
<rect x="418.40" y="447.15" width="7.05" height="2.50" fill="#000"/>
<g transform="translate(394.32,455.10) scale(1,1.04)"><text x="0" y="0" font-size="19" font-style="normal" >60</text>
</g>
<rect x="418.40" y="395.70" width="7.05" height="2.50" fill="#000"/>
<g transform="translate(394.32,403.65) scale(1,1.04)"><text x="0" y="0" font-size="19" font-style="normal" >80</text>
</g>
<rect x="418.40" y="344.25" width="7.05" height="2.50" fill="#000"/>
<g transform="translate(383.75,352.20) scale(1,1.04)"><text x="0" y="0" font-size="19" font-style="normal" > 00</text>
<path class="g1" d="M 537.0 0.0 L 537.0 999.4 C 440.0 917.8 300.0 864.9 95.0 826.5 L 95.0 1042.7 C 300.0 1105.1 470.0 1239.7 562.0 1408.8 L 818.0 1408.8 L 818.0 0.0 Z" transform="translate(0.00,0) scale(0.00928,-0.00928)"/>
</g>
<text x="0" y="0" font-size="21.7" text-anchor="middle" transform="translate(375.00,471.60) rotate(-90) scale(1,1.03)">sTILs (%)</text>
<rect x="498.05" y="602.75" width="2.50" height="6.75" fill="#000"/>
<g transform="translate(452.73,631.80) scale(1,1.0)"><text x="0" y="0" font-size="21.5" font-style="normal" >Non-pCR</text>
</g>
<rect x="608.15" y="602.75" width="2.50" height="6.75" fill="#000"/>
<g transform="translate(587.31,632.60) scale(1,1.0)"><text x="0" y="0" font-size="21.5" font-style="normal" >pCR</text>
</g>
<rect x="496.60" y="372.90" width="111.20" height="2.10" fill="#000"/>
<rect x="496.60" y="372.90" width="2.40" height="4.90" fill="#000"/>
<rect x="605.20" y="372.90" width="2.60" height="4.90" fill="#000"/>
<g transform="translate(509.67,369.10) scale(1,1.08)"><text x="0" y="0" font-size="21" font-style="italic" >P&lt; 0.00 </text>
<path class="g1" d="M 442.0 0.0 L 654.5 999.4 C 540.1 917.8 388.9 864.9 175.7 826.5 L 221.7 1042.7 C 440.0 1105.1 638.6 1239.7 766.5 1408.8 L 1022.5 1408.8 L 723.0 0.0 Z" transform="translate(72.98,0) scale(0.01025,-0.01025)"/>
</g>
</svg></body></html>
